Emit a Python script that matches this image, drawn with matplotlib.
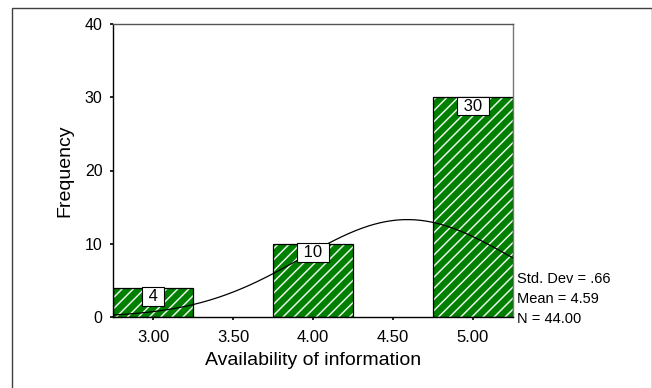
import numpy as np
import matplotlib
matplotlib.use("Agg")
import matplotlib.pyplot as plt
from matplotlib.patches import Rectangle

# Histogram data
bin_centers = [3.0, 4.0, 5.0]
frequencies = [4, 10, 30]
bin_width = 0.5
x_ticks = [3.0, 3.5, 4.0, 4.5, 5.0]
x_tick_labels = ["3.00", "3.50", "4.00", "4.50", "5.00"]
y_ticks = [0, 10, 20, 30, 40]

# Summary statistics
std_dev = 0.66
mean = 4.59
n_cases = 44

plt.rcParams["font.family"] = ["Liberation Sans", "DejaVu Sans"]
plt.rcParams["hatch.linewidth"] = 1.1

fig = plt.figure(figsize=(6.52, 3.88), dpi=100)
W, H = 652, 388

# outer frame around the whole chart (bottom edge runs off the canvas)
fig.patches.append(Rectangle((12 / W, -5 / H), 639.5 / W, 385.5 / H,
                             transform=fig.transFigure, fill=False,
                             edgecolor="#404040", linewidth=1.0))

ax = fig.add_axes([113 / W, 1 - 317 / H, 400 / W, 293 / H])

# bars: green fill with light diagonal hatching, black outline
ax.bar(bin_centers, frequencies, width=bin_width, color="#007f00",
       edgecolor="#e8f4e8", hatch="///", linewidth=0, zorder=2)
ax.bar(bin_centers, frequencies, width=bin_width, fill=False,
       edgecolor="black", linewidth=0.9, zorder=3)

# value labels at the top of each bar
for xc, f in zip(bin_centers, frequencies):
    ax.annotate(f" {f} ", (xc, f), xytext=(0, -1.0), textcoords="offset points",
                ha="center", va="top", fontsize=12, zorder=5,
                bbox=dict(boxstyle="square,pad=0.1", facecolor="white",
                          edgecolor="black", linewidth=0.8))

# fitted normal curve
xs = np.linspace(2.75, 5.25, 400)
ys = n_cases * bin_width / (std_dev * np.sqrt(2 * np.pi)) * \
    np.exp(-0.5 * ((xs - mean) / std_dev) ** 2)
ax.plot(xs, ys, color="black", linewidth=0.9, zorder=4)

ax.set_xlim(2.75, 5.25)
ax.set_ylim(0, 40)
ax.set_xticks(x_ticks)
ax.set_xticklabels(x_tick_labels, fontsize=12)
ax.set_yticks(y_ticks)
ax.set_yticklabels([str(v) for v in y_ticks], fontsize=11.5)
ax.tick_params(axis="both", direction="out", length=2.5, width=1.2)
ax.tick_params(axis="x", pad=7)
ax.tick_params(axis="y", pad=5)

ax.spines["left"].set_color("black")
ax.spines["bottom"].set_color("black")
ax.spines["top"].set_color("#555555")
ax.spines["right"].set_color("#777777")
for s in ax.spines.values():
    s.set_linewidth(1.0)

ax.set_xlabel("Availability of information", fontsize=14, labelpad=5)
ax.set_ylabel("Frequency", fontsize=14, labelpad=8)

stats = f"Std. Dev = .{int(round(std_dev * 100))}\nMean = {mean:.2f}\nN = {n_cases:.2f}"
ax.text(1.01, -9 / 293, stats, transform=ax.transAxes, ha="left", va="bottom",
        fontsize=10.5, linespacing=1.55)

fig.savefig("out.png", dpi=100)
